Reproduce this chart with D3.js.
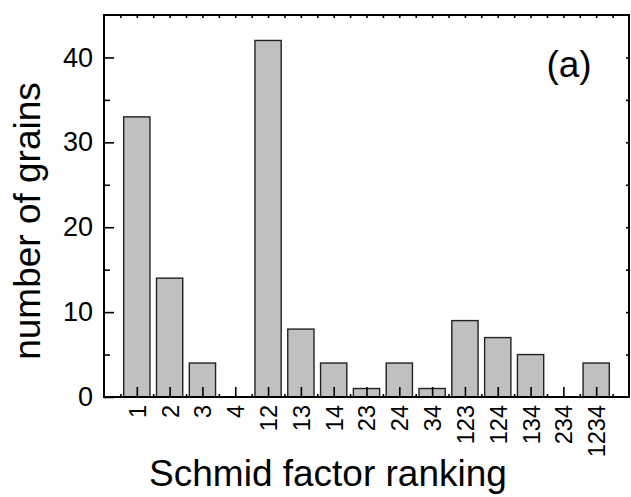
<!DOCTYPE html>
<html>
<head>
<meta charset="utf-8">
<script src="https://cdn.jsdelivr.net/npm/d3@7"></script>
<style>
  body { margin: 0; background: #fff; }
  svg text { font-family: Arial, "Liberation Sans", sans-serif; fill: #000; }
</style>
</head>
<body>
<div id="chart"></div>
<script>
// data
var categories = ["1", "2", "3", "4", "12", "13", "14", "23", "24", "34", "123", "124", "134", "234", "1234"];
var grainCounts = [33, 14, 4, 0, 42, 8, 4, 1, 4, 1, 9, 7, 5, 0, 4];
var yTicks = [0, 10, 20, 30, 40];

var width = 631, height = 497;
var margin = {top: 15, right: 2, bottom: 100, left: 104};
var plotW = width - margin.left - margin.right,
    plotH = height - margin.top - margin.bottom;

var svg = d3.select("#chart").append("svg")
    .attr("width", width)
    .attr("height", height);

var g = svg.append("g")
    .attr("transform", "translate(" + margin.left + "," + margin.top + ")");

// scales
var x = d3.scalePoint()
    .domain(categories)
    .range([0, plotW])
    .padding(1);
var xl = d3.scaleLinear()
    .domain([0, categories.length + 1])
    .range([0, plotW]);
var y = d3.scaleLinear()
    .domain([0, 45])
    .range([plotH, 0]);

var barW = x.step() * 0.8;

var data = categories.map(function(c, i){ return {name: c, value: grainCounts[i]}; });

// bars
g.selectAll(".bar")
    .data(data.filter(function(d){ return d.value > 0; }))
    .enter().append("rect")
    .attr("class", "bar")
    .attr("x", function(d){ return x(d.name) - barW / 2; })
    .attr("y", function(d){ return y(d.value); })
    .attr("width", barW)
    .attr("height", function(d){ return plotH - y(d.value); })
    .attr("fill", "#c0c0c0")
    .attr("stroke", "#222")
    .attr("stroke-width", 1.4);

function noDomain(sel){ sel.select(".domain").remove(); }
function tickStyle(sel){ sel.selectAll(".tick line").attr("stroke", "#000").attr("stroke-width", 1.6); }

// bottom axis, major ticks at categories
var xAxis = g.append("g")
    .attr("transform", "translate(0," + plotH + ")")
    .call(d3.axisBottom(x).tickSize(-10))
    .call(noDomain)
    .call(tickStyle);
xAxis.selectAll("text")
    .attr("transform", "rotate(-90)")
    .attr("x", -8)
    .attr("y", 0)
    .attr("dy", "0.36em")
    .attr("text-anchor", "end")
    .style("font-size", "23.5px");

// bottom minor ticks (between categories)
g.append("g")
    .attr("transform", "translate(0," + plotH + ")")
    .call(d3.axisBottom(xl).tickValues(d3.range(0.5, 16, 1)).tickSize(-3).tickFormat(""))
    .call(noDomain)
    .call(tickStyle);

// top ticks
g.append("g")
    .call(d3.axisTop(xl).tickValues(d3.range(0.5, 16, 0.5)).tickSize(-3).tickFormat(""))
    .call(noDomain)
    .call(tickStyle);

// left axis
var yAxis = g.append("g")
    .call(d3.axisLeft(y).tickValues(yTicks).tickSize(-10).tickPadding(11))
    .call(noDomain)
    .call(tickStyle);
yAxis.selectAll("text").style("font-size", "27px");

g.append("g")
    .call(d3.axisLeft(y).tickValues([5, 15, 25, 35]).tickSize(-6).tickFormat(""))
    .call(noDomain)
    .call(tickStyle);

// right ticks
g.append("g")
    .attr("transform", "translate(" + plotW + ",0)")
    .call(d3.axisRight(y).tickValues(d3.range(5, 45, 5)).tickSize(-3).tickFormat(""))
    .call(noDomain)
    .call(tickStyle);

// frame
g.append("rect")
    .attr("x", 0)
    .attr("y", 0)
    .attr("width", plotW)
    .attr("height", plotH)
    .attr("fill", "none")
    .attr("stroke", "#000")
    .attr("stroke-width", 2);

// panel label
svg.append("text")
    .attr("x", 569)
    .attr("y", 77)
    .attr("text-anchor", "middle")
    .style("font-size", "37px")
    .text("(a)");

// axis titles
svg.append("text")
    .attr("x", 328)
    .attr("y", 486)
    .attr("text-anchor", "middle")
    .style("font-size", "37px")
    .text("Schmid factor ranking");

svg.append("text")
    .attr("transform", "translate(40,221) rotate(-90)")
    .attr("text-anchor", "middle")
    .style("font-size", "37px")
    .text("number of grains");
</script>
</body>
</html>
